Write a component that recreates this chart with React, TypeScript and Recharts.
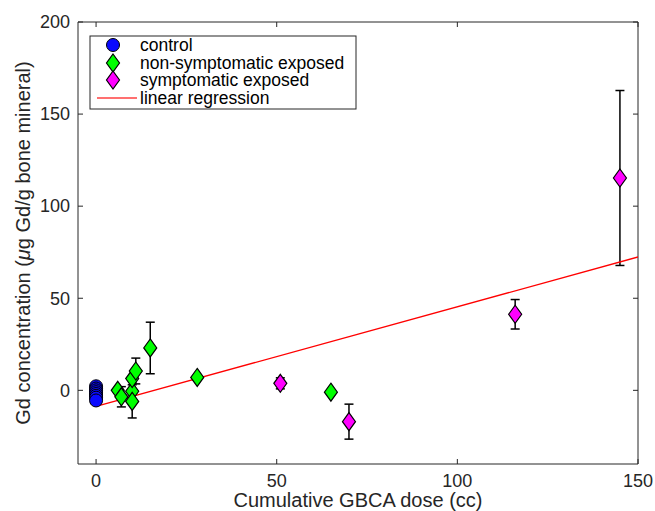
import React from 'react';
import {
  ComposedChart,
  Scatter,
  XAxis,
  YAxis,
  ErrorBar,
  ReferenceLine,
} from 'recharts';

// values
const controlDose = [0, 0, 0, 0, 0, 0, 0, 0];
const controlGd = [2.2, 1, 0, -1, -2, -3, -4, -5.5];

const nonSympDose = [6, 7, 10, 10, 10, 11, 15, 28, 65];
const nonSympGd = [0, -3.5, -0.5, -6, 6.4, 10.5, 23, 7, -1];
const nonSympErr = [0, 5.5, 0, 9, 0, 7, 14, 0, 0];

const sympDose = [51, 70, 116, 145];
const sympGd = [3.8, -17, 41.3, 115.3];
const sympErr = [3, 9.5, 8, 47.5];

const regDose = [0, 150];
const regGd = [-8.7, 72.4];

const xTicks = [0, 50, 100, 150];
const yTicks = [0, 50, 100, 150, 200];

const W = 655;
const H = 511;
const TOP = 22;
const BOTTOM = 464;
const LEFT = 78;
const RIGHT = 638;
const AXIS = '#262626';
const FONT = '"Liberation Sans", Arial, Helvetica, sans-serif';

const controlData = controlDose.map((x, i) => ({ x, y: controlGd[i] }));
const nonSympData = nonSympDose.map((x, i) => ({ x, y: nonSympGd[i], err: nonSympErr[i] }));
const sympData = sympDose.map((x, i) => ({ x, y: sympGd[i], err: sympErr[i] }));
const regData = regDose.map((x, i) => ({ x, y: regGd[i] }));

const Diamond = ({ cx, cy, fill }: any) => (
  <polygon
    points={`${cx},${cy - 9} ${cx + 6.5},${cy} ${cx},${cy + 9} ${cx - 6.5},${cy}`}
    fill={fill}
    stroke="#000"
    strokeWidth={1.2}
  />
);

const Dot = ({ cx, cy }: any) => (
  <circle cx={cx} cy={cy} r={6.5} fill="#0a0aff" stroke="#000" strokeWidth={1} />
);

const XTick = ({ x, payload }: any) => (
  <g>
    <line x1={x} x2={x} y1={BOTTOM} y2={BOTTOM - 5} stroke={AXIS} />
    <line x1={x} x2={x} y1={TOP} y2={TOP + 5} stroke={AXIS} />
    <text x={x} y={BOTTOM + 22.5} textAnchor="middle" fontSize={18} fill={AXIS} fontFamily={FONT}>
      {payload.value}
    </text>
  </g>
);

const YTick = ({ y, payload }: any) => (
  <g>
    <line x1={LEFT} x2={LEFT + 5} y1={y} y2={y} stroke={AXIS} />
    <line x1={RIGHT} x2={RIGHT - 5} y1={y} y2={y} stroke={AXIS} />
    <text x={LEFT - 8} y={y} dy="0.35em" textAnchor="end" fontSize={18} fill={AXIS} fontFamily={FONT}>
      {payload.value}
    </text>
  </g>
);

const XLabel = () => (
  <text x={(LEFT + RIGHT) / 2} y={507} textAnchor="middle" fontSize={20} fill={AXIS} fontFamily={FONT}>
    Cumulative GBCA dose (cc)
  </text>
);

const YLabel = () => (
  <text
    x={30}
    y={(TOP + BOTTOM) / 2}
    transform={`rotate(-90 30 ${(TOP + BOTTOM) / 2})`}
    textAnchor="middle"
    fontSize={20}
    fill={AXIS}
    fontFamily={FONT}
  >
    Gd concentration (<tspan fontStyle="italic">μ</tspan>g Gd/g bone mineral)
  </text>
);

const legendLabels = ['control', 'non-symptomatic exposed', 'symptomatic exposed', 'linear regression'];
const legendRows = [10, 28, 45, 63];

const LegendBox = () => (
  <svg
    width={268}
    height={75}
    style={{ position: 'absolute', left: 89, top: 35 }}
    fontFamily={FONT}
  >
    <rect x={1} y={1} width={266} height={73} fill="#fff" stroke={AXIS} strokeWidth={1} />
    <circle cx={24} cy={legendRows[0]} r={6.5} fill="#0a0aff" stroke="#000" />
    <Diamond cx={24} cy={legendRows[1]} fill="#00ff00" />
    <Diamond cx={24} cy={legendRows[2]} fill="#ff00ff" />
    <line x1={8} x2={48} y1={legendRows[3]} y2={legendRows[3]} stroke="#ff4040" strokeWidth={1.5} />
    {legendLabels.map((t, i) => (
      <text key={t} x={51} y={legendRows[i]} dy="0.35em" fontSize={17.5} fill="#000">
        {t}
      </text>
    ))}
  </svg>
);

export default function App() {
  return (
    <div style={{ position: 'absolute', left: 0, top: 0, width: W, height: H, background: '#fff' }}>
      <ComposedChart width={W} height={H} margin={{ top: TOP, right: W - RIGHT, bottom: 0, left: 0 }}>
        <XAxis
          type="number"
          dataKey="x"
          domain={[-5, 150]}
          ticks={xTicks}
          allowDataOverflow
          height={H - BOTTOM}
          tickLine={false}
          tickSize={0}
          tick={<XTick />}
          stroke={AXIS}
          label={<XLabel />}
        />
        <YAxis
          type="number"
          dataKey="y"
          domain={[-40, 200]}
          ticks={yTicks}
          allowDataOverflow
          width={LEFT}
          tickLine={false}
          tickSize={0}
          tick={<YTick />}
          stroke={AXIS}
          label={<YLabel />}
        />
        <ReferenceLine y={200} stroke={AXIS} />
        <ReferenceLine x={150} stroke={AXIS} />
        <Scatter
          data={regData}
          line={{ stroke: '#ff0000', strokeWidth: 1.3 }}
          shape={() => null}
          isAnimationActive={false}
        />
        <Scatter data={controlData} shape={<Dot />} isAnimationActive={false} />
        <Scatter
          data={nonSympData}
          fill="#00ff00"
          shape={(p: any) => <Diamond {...p} fill="#00ff00" />}
          isAnimationActive={false}
        >
          <ErrorBar dataKey="err" direction="y" width={4.5} stroke="#000" strokeWidth={1.5} />
        </Scatter>
        <Scatter
          data={sympData}
          fill="#ff00ff"
          shape={(p: any) => <Diamond {...p} fill="#ff00ff" />}
          isAnimationActive={false}
        >
          <ErrorBar dataKey="err" direction="y" width={4.5} stroke="#000" strokeWidth={1.5} />
        </Scatter>
      </ComposedChart>
      <LegendBox />
    </div>
  );
}
